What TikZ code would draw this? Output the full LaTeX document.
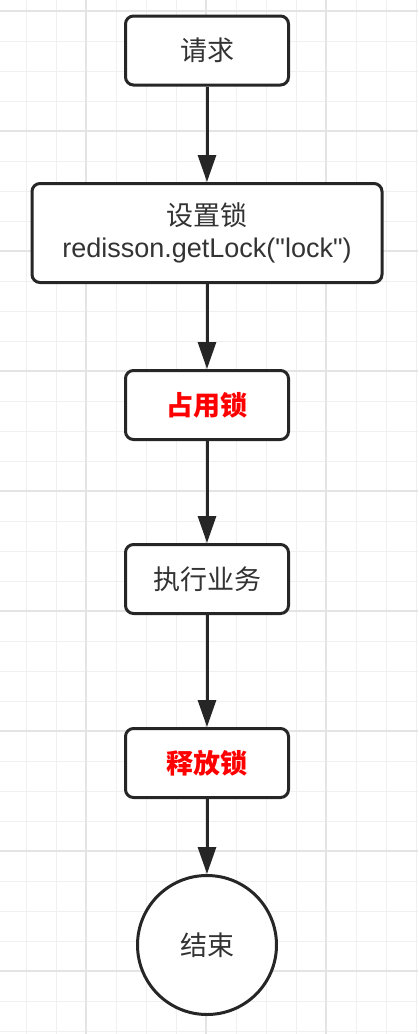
\documentclass[tikz,border=0pt]{standalone}
\usepackage{fontspec}
\setmainfont{Liberation Sans}
\newfontfamily\code{Liberation Sans}
\newfontfamily\cjk{Noto Sans CJK SC}
\usetikzlibrary{arrows.meta}
\definecolor{ink}{HTML}{262626}
\definecolor{txt}{HTML}{333333}
\tikzset{
  box/.style={draw=ink, line width=3pt, rounded corners=8pt, fill=white, text=txt,
    minimum width=163pt, minimum height=69pt, inner sep=0pt, align=center,
    font=\fontsize{27}{32}\selectfont},
  hot/.style={text=red, font=\fontsize{27}{32}\selectfont\bfseries},
  stop/.style={box, circle, minimum size=139pt},
  flow/.style={draw=ink, line width=3pt, -{Triangle[length=27pt, width=18pt]}},
  minor/.style={draw=gray!12, line width=1pt},
  major/.style={draw=gray!21, line width=1.5pt}
}
\begin{document}
\begin{tikzpicture}[x=1pt, y=-1pt]
\useasboundingbox (0,0) rectangle (418,1034);
% grid
\foreach \x in {26,56,...,416} \draw[minor] (\x,0)--(\x,1034);
\foreach \y in {11,41,...,1031} \draw[minor] (0,\y)--(418,\y);
\foreach \x in {86,206,326} \draw[major] (\x,0)--(\x,1034);
\foreach \y in {11,131,...,1031} \draw[major] (0,\y)--(418,\y);
% steps
\node[box] (req) at (207,50.5) {\cjk 请求};
\node[box, minimum width=350pt, minimum height=99pt] (lockset) at (207,233) {{\cjk 设置锁}\\{\code redisson.getLock("lock")}};
\node[box, hot] (lockget) at (207,405) {\cjk 占用锁};
\node[box] (work) at (207,579) {\cjk 执行业务};
\node[box, hot] (lockfree) at (207,763) {\cjk 释放锁};
\node[stop] (done) at (207,945) {\cjk 结束};
\draw[flow] (req) -- (lockset);
\draw[flow] (lockset) -- (lockget);
\draw[flow] (lockget) -- (work);
\draw[flow] (work) -- (lockfree);
\draw[flow] (lockfree) -- (done);
\end{tikzpicture}
\end{document}
